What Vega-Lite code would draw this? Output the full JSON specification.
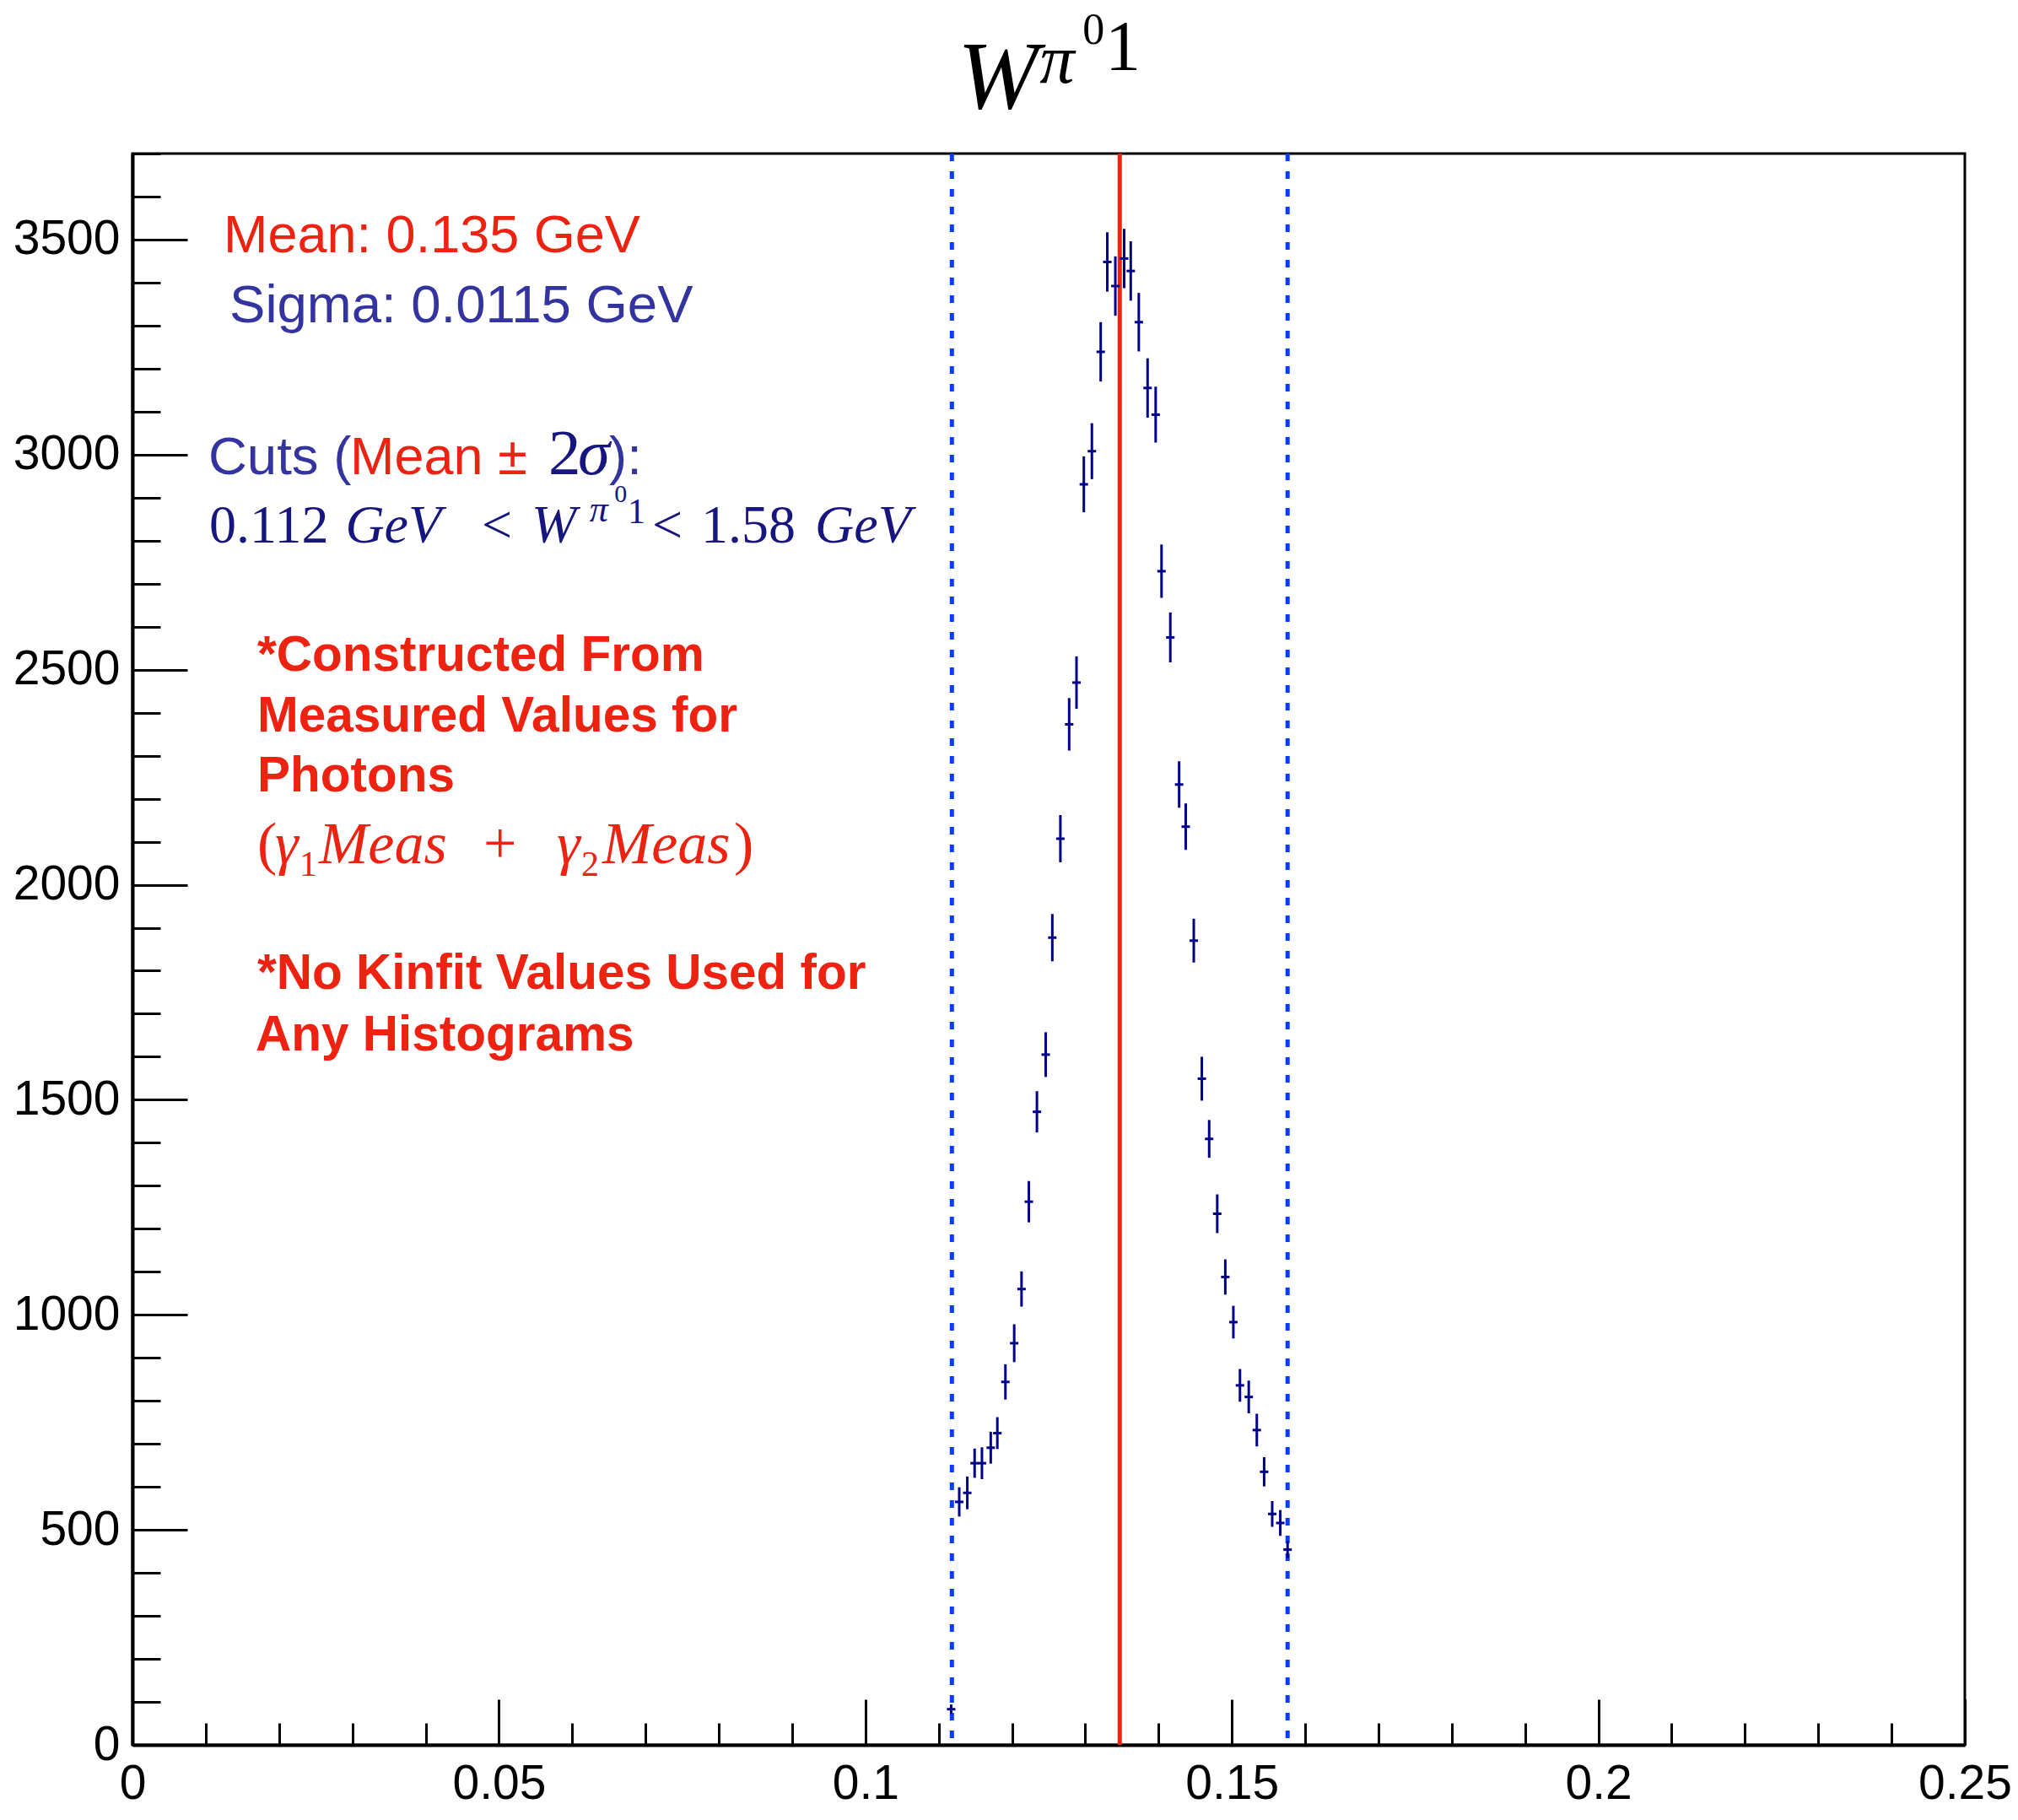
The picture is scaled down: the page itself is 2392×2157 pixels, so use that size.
{
  "$schema": "https://vega.github.io/schema/vega-lite/v6.json",
  "width": 2172,
  "height": 1886,
  "autosize": {"type": "none"},
  "padding": {"left": 157, "top": 182, "right": 63, "bottom": 89},
  "background": "white",
  "config": {"view": {"stroke": "#000", "strokeWidth": 3}, "axis": {"grid": false}},
  "datasets": {
    "pts": [
      {"x": 0.1117, "y": 83, "err": 11},
      {"x": 0.1128, "y": 565, "err": 34},
      {"x": 0.1139, "y": 586, "err": 38},
      {"x": 0.1149, "y": 655, "err": 34},
      {"x": 0.1159, "y": 655, "err": 37},
      {"x": 0.1171, "y": 691, "err": 37},
      {"x": 0.1180, "y": 725, "err": 37},
      {"x": 0.1191, "y": 844, "err": 41},
      {"x": 0.1203, "y": 934, "err": 44},
      {"x": 0.1213, "y": 1060, "err": 41},
      {"x": 0.1223, "y": 1263, "err": 48},
      {"x": 0.1234, "y": 1472, "err": 48},
      {"x": 0.1246, "y": 1605, "err": 52},
      {"x": 0.1255, "y": 1877, "err": 55},
      {"x": 0.1266, "y": 2107, "err": 55},
      {"x": 0.1278, "y": 2373, "err": 61},
      {"x": 0.1288, "y": 2470, "err": 61},
      {"x": 0.1298, "y": 2931, "err": 65},
      {"x": 0.1309, "y": 3008, "err": 65},
      {"x": 0.1321, "y": 3239, "err": 69},
      {"x": 0.1330, "y": 3448, "err": 69},
      {"x": 0.1341, "y": 3392, "err": 69},
      {"x": 0.1353, "y": 3456, "err": 69},
      {"x": 0.1362, "y": 3427, "err": 69},
      {"x": 0.1373, "y": 3308, "err": 68},
      {"x": 0.1385, "y": 3155, "err": 69},
      {"x": 0.1396, "y": 3093, "err": 65},
      {"x": 0.1404, "y": 2729, "err": 62},
      {"x": 0.1416, "y": 2575, "err": 58},
      {"x": 0.1428, "y": 2233, "err": 54},
      {"x": 0.1437, "y": 2135, "err": 54},
      {"x": 0.1448, "y": 1870, "err": 51},
      {"x": 0.1459, "y": 1549, "err": 51},
      {"x": 0.1469, "y": 1409, "err": 44},
      {"x": 0.1480, "y": 1235, "err": 45},
      {"x": 0.1491, "y": 1088, "err": 41},
      {"x": 0.1502, "y": 983, "err": 38},
      {"x": 0.1511, "y": 836, "err": 38},
      {"x": 0.1523, "y": 809, "err": 38},
      {"x": 0.1534, "y": 732, "err": 38},
      {"x": 0.1544, "y": 635, "err": 34},
      {"x": 0.1555, "y": 537, "err": 30},
      {"x": 0.1566, "y": 516, "err": 30},
      {"x": 0.1576, "y": 454, "err": 20}
    ],
    "meanline": [{"x": 0.1347}],
    "cutlines": [{"x": 0.1118}, {"x": 0.1576}],
    "tA": [{"x": 0.01243, "y": 3470.5, "t": "Mean: 0.135 GeV"}, {"x": 0.0297, "y": 2954.5, "t": "Mean ±"}],
    "tB": [{"x": 0.01324, "y": 3307.6, "t": "Sigma: 0.0115 GeV"}, {"x": 0.01036, "y": 2954.5, "t": "Cuts ("}, {"x": 0.06504, "y": 2954.5, "t": "):"}],
    "tC": [{"x": 0.05675, "y": 2954.5, "t": "2"}],
    "tD": [{"x": 0.06078, "y": 2954.5, "t": "σ"}],
    "tE": [{"x": 0.01047, "y": 2795.6, "t": "0.112"}, {"x": 0.04765, "y": 2795.6, "t": "<"}, {"x": 0.0709, "y": 2795.6, "t": "<"}, {"x": 0.07758, "y": 2795.6, "t": "1.58"}],
    "tF": [{"x": 0.02905, "y": 2795.6, "t": "GeV"}, {"x": 0.05444, "y": 2795.6, "t": "W"}, {"x": 0.09312, "y": 2795.6, "t": "GeV"}],
    "tG": [{"x": 0.06235, "y": 2844.7, "t": "π"}],
    "tH": [{"x": 0.06575, "y": 2890, "t": "0"}],
    "tI": [{"x": 0.06757, "y": 2840.4, "t": "1"}],
    "tJ": [
      {"x": 0.01703, "y": 2497.4, "t": "*Constructed From"},
      {"x": 0.01703, "y": 2356.2, "t": "Measured Values for"},
      {"x": 0.01703, "y": 2216.9, "t": "Photons"},
      {"x": 0.01703, "y": 1757.8, "t": "*No Kinfit Values Used for"},
      {"x": 0.0168, "y": 1614.6, "t": "Any Histograms"}
    ],
    "tK": [{"x": 0.01945, "y": 2050, "t": "γ"}, {"x": 0.02544, "y": 2050, "t": "Meas"}, {"x": 0.0579, "y": 2050, "t": "γ"}, {"x": 0.06411, "y": 2050, "t": "Meas"}],
    "tL": [{"x": 0.01703, "y": 2050, "t": "("}, {"x": 0.04788, "y": 2050, "t": "+"}, {"x": 0.08207, "y": 2050, "t": ")"}],
    "tM": [{"x": 0.02279, "y": 2020.7, "t": "1"}, {"x": 0.06123, "y": 2020.7, "t": "2"}],
    "tN": [{"x": 0.11257, "y": 3806, "t": "W"}],
    "tO": [{"x": 0.1238, "y": 3864.8, "t": "π"}],
    "tP": [{"x": 0.12962, "y": 3955, "t": "0"}],
    "tQ": [{"x": 0.13271, "y": 3894, "t": "1"}]
  },
  "encoding": {
    "x": {
      "field": "x", "type": "quantitative",
      "scale": {"domain": [0, 0.25], "nice": false, "zero": false},
      "axis": {
        "title": null,
        "values": [0, 0.01, 0.02, 0.03, 0.04, 0.05, 0.06, 0.07, 0.08, 0.09, 0.1, 0.11, 0.12, 0.13, 0.14, 0.15, 0.16, 0.17, 0.18, 0.19, 0.2, 0.21, 0.22, 0.23, 0.24, 0.25],
        "labelExpr": "abs(datum.value*20 - round(datum.value*20)) < 1e-6 ? format(datum.value, '~g') : ''",
        "labelFont": "Liberation Sans, Arial",
        "labelFontSize": 57,
        "labelColor": "#000",
        "labelFlush": false,
        "labelOverlap": false,
        "labelBound": false,
        "labelPadding": 72,
        "tickSize": {"condition": {"test": "abs(datum.value*20 - round(datum.value*20)) < 1e-6", "value": -54}, "value": -26},
        "tickWidth": 3,
        "tickColor": "#000",
        "domainColor": "#000",
        "domainWidth": 4,
        "grid": false
      }
    },
    "y": {
      "field": "y", "type": "quantitative",
      "scale": {"domain": [0, 3700], "nice": false, "zero": false},
      "axis": {
        "title": null,
        "values": [0, 100, 200, 300, 400, 500, 600, 700, 800, 900, 1000, 1100, 1200, 1300, 1400, 1500, 1600, 1700, 1800, 1900, 2000, 2100, 2200, 2300, 2400, 2500, 2600, 2700, 2800, 2900, 3000, 3100, 3200, 3300, 3400, 3500, 3600, 3700],
        "labelExpr": "datum.value % 500 === 0 ? format(datum.value, 'd') : ''",
        "labelFont": "Liberation Sans, Arial",
        "labelFontSize": 57,
        "labelColor": "#000",
        "labelFlush": false,
        "labelOverlap": false,
        "labelBound": false,
        "labelPadding": 80,
        "tickSize": {"condition": {"test": "datum.value % 500 === 0", "value": -65}, "value": -33},
        "tickWidth": 3,
        "tickColor": "#000",
        "domainColor": "#000",
        "domainWidth": 4,
        "grid": false
      }
    }
  },
  "layer": [
    {
      "data": {"name": "cutlines"},
      "mark": {"type": "rule", "color": "#0a3cff", "strokeWidth": 5, "strokeDash": [9, 12]},
      "encoding": {"y": null}
    },
    {
      "data": {"name": "meanline"},
      "mark": {"type": "rule", "color": "#ee2211", "strokeWidth": 5},
      "encoding": {"y": null}
    },
    {
      "data": {"name": "pts"},
      "mark": {"type": "errorbar", "ticks": false, "thickness": 3, "color": "#00008b"},
      "encoding": {"yError": {"field": "err"}}
    },
    {
      "data": {"name": "pts"},
      "mark": {"type": "tick", "orient": "horizontal", "size": 10, "thickness": 3, "color": "#00008b", "opacity": 1}
    },
    {"data": {"name": "tA"}, "mark": {"type": "text", "align": "left", "baseline": "alphabetic", "font": "Liberation Sans, Arial", "fontSize": 63, "color": "#ee2211"}, "encoding": {"text": {"field": "t"}}},
    {"data": {"name": "tB"}, "mark": {"type": "text", "align": "left", "baseline": "alphabetic", "font": "Liberation Sans, Arial", "fontSize": 63.5, "color": "#3434a0"}, "encoding": {"text": {"field": "t"}}},
    {"data": {"name": "tC"}, "mark": {"type": "text", "align": "left", "baseline": "alphabetic", "font": "Liberation Serif", "fontSize": 77, "color": "#16167e"}, "encoding": {"text": {"field": "t"}}},
    {"data": {"name": "tD"}, "mark": {"type": "text", "align": "left", "baseline": "alphabetic", "font": "Liberation Serif", "fontStyle": "italic", "fontSize": 77, "color": "#16167e"}, "encoding": {"text": {"field": "t"}}},
    {"data": {"name": "tE"}, "mark": {"type": "text", "align": "left", "baseline": "alphabetic", "font": "Liberation Serif", "fontSize": 64, "color": "#16167e"}, "encoding": {"text": {"field": "t"}}},
    {"data": {"name": "tF"}, "mark": {"type": "text", "align": "left", "baseline": "alphabetic", "font": "Liberation Serif", "fontStyle": "italic", "fontSize": 64, "color": "#16167e"}, "encoding": {"text": {"field": "t"}}},
    {"data": {"name": "tG"}, "mark": {"type": "text", "align": "left", "baseline": "alphabetic", "font": "Liberation Serif", "fontStyle": "italic", "fontSize": 44, "color": "#16167e"}, "encoding": {"text": {"field": "t"}}},
    {"data": {"name": "tH"}, "mark": {"type": "text", "align": "left", "baseline": "alphabetic", "font": "Liberation Serif", "fontSize": 30, "color": "#16167e"}, "encoding": {"text": {"field": "t"}}},
    {"data": {"name": "tI"}, "mark": {"type": "text", "align": "left", "baseline": "alphabetic", "font": "Liberation Serif", "fontSize": 42, "color": "#16167e"}, "encoding": {"text": {"field": "t"}}},
    {"data": {"name": "tJ"}, "mark": {"type": "text", "align": "left", "baseline": "alphabetic", "font": "Liberation Sans, Arial", "fontWeight": "bold", "fontSize": 58.5, "color": "#ee2211"}, "encoding": {"text": {"field": "t"}}},
    {"data": {"name": "tK"}, "mark": {"type": "text", "align": "left", "baseline": "alphabetic", "font": "Liberation Serif", "fontStyle": "italic", "fontSize": 70, "color": "#ee2211"}, "encoding": {"text": {"field": "t"}}},
    {"data": {"name": "tL"}, "mark": {"type": "text", "align": "left", "baseline": "alphabetic", "font": "Liberation Serif", "fontSize": 70, "color": "#ee2211"}, "encoding": {"text": {"field": "t"}}},
    {"data": {"name": "tM"}, "mark": {"type": "text", "align": "left", "baseline": "alphabetic", "font": "Liberation Serif", "fontSize": 42, "color": "#ee2211"}, "encoding": {"text": {"field": "t"}}},
    {"data": {"name": "tN"}, "mark": {"type": "text", "align": "left", "baseline": "alphabetic", "font": "Liberation Serif", "fontStyle": "italic", "fontSize": 115, "color": "#000"}, "encoding": {"text": {"field": "t"}}},
    {"data": {"name": "tO"}, "mark": {"type": "text", "align": "left", "baseline": "alphabetic", "font": "Liberation Serif", "fontStyle": "italic", "fontSize": 82, "color": "#000"}, "encoding": {"text": {"field": "t"}}},
    {"data": {"name": "tP"}, "mark": {"type": "text", "align": "left", "baseline": "alphabetic", "font": "Liberation Serif", "fontSize": 52, "color": "#000"}, "encoding": {"text": {"field": "t"}}},
    {"data": {"name": "tQ"}, "mark": {"type": "text", "align": "left", "baseline": "alphabetic", "font": "Liberation Serif", "fontSize": 84, "color": "#000"}, "encoding": {"text": {"field": "t"}}}
  ]
}
